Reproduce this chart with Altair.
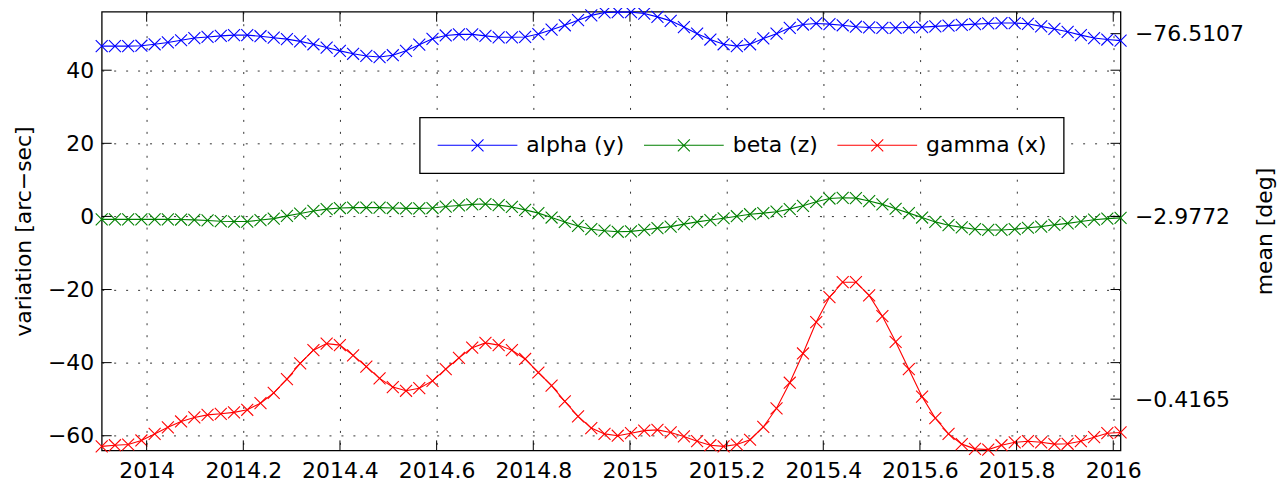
import altair as alt
import pandas as pd

# ---------------- data ----------------
series_names = ["alpha (y)", "beta (z)", "gamma (x)"]
series_colors = ["#0000ff", "#008000", "#ff0000"]

t_start = 2013.907          # decimal year of first sample
t_step_days = 10            # sampling cadence (days)
n_points = 78
times = [round(t_start + i * t_step_days / 365.25, 5) for i in range(n_points)]

alpha = [46.6, 46.6, 46.6, 46.7, 47.1, 47.6, 48.2, 48.8, 49.1, 49.4, 49.6, 49.6, 49.3,
         48.9, 48.5, 47.9, 47.1, 46.2, 45.3, 44.5, 43.9, 43.6, 44.1, 45.3, 47.0, 48.6,
         49.5, 49.8, 49.8, 49.4, 49.0, 49.0, 49.1, 49.9, 51.1, 52.3, 53.7, 55.0, 55.8,
         55.9, 55.9, 55.5, 54.6, 53.5, 51.8, 50.0, 48.4, 47.1, 46.6, 47.1, 48.7, 50.0,
         51.6, 52.5, 52.8, 52.6, 52.3, 51.9, 51.7, 51.6, 51.6, 51.7, 51.8, 52.0, 52.2,
         52.4, 52.6, 52.8, 52.9, 52.9, 52.7, 52.0, 51.3, 50.5, 49.6, 48.8, 48.4, 48.1]

beta = [-0.8, -0.8, -0.8, -0.8, -0.8, -0.8, -0.85, -0.95, -1.1, -1.3, -1.4, -1.4, -1.0,
        -0.6, 0.15, 0.8, 1.5, 2.0, 2.3, 2.4, 2.4, 2.4, 2.3, 2.2, 2.2, 2.3,
        2.7, 3.0, 3.3, 3.4, 3.1, 2.6, 1.8, 0.9, -0.3, -1.5, -2.6, -3.5, -3.9,
        -4.2, -4.1, -3.7, -3.2, -2.8, -2.1, -1.5, -1.0, -0.5, 0.05, 0.6, 0.9, 1.3,
        2.0, 2.9, 4.0, 4.9, 5.1, 5.0, 4.2, 3.3, 2.1, 0.9, -0.3, -1.5, -2.4,
        -3.0, -3.5, -3.7, -3.7, -3.5, -3.1, -2.8, -2.3, -1.9, -1.4, -0.9, -0.6, -0.4]

gamma = [-62.9, -62.6, -62.4, -61.3, -59.5, -57.7, -56.1, -55.0, -54.3, -54.0, -53.6, -52.9, -51.1,
         -48.3, -44.5, -40.2, -36.6, -34.8, -35.2, -38.0, -41.1, -44.3, -46.7, -47.7, -47.0, -45.0,
         -41.8, -38.7, -35.9, -34.6, -35.2, -36.6, -39.0, -42.7, -46.3, -50.6, -54.7, -57.9, -59.5,
         -60.0, -59.3, -58.6, -58.4, -59.1, -60.2, -61.5, -62.6, -62.9, -62.4, -61.1, -57.6, -52.5,
         -45.5, -37.5, -28.9, -22.1, -18.0, -18.0, -21.6, -27.3, -34.3, -41.8, -49.3, -55.2, -59.5,
         -62.3, -63.6, -63.8, -62.6, -61.8, -61.5, -61.8, -62.3, -62.2, -61.5, -60.4, -59.3, -59.1]

x_ticks = [2014, 2014.2, 2014.4, 2014.6, 2014.8, 2015, 2015.2, 2015.4, 2015.6, 2015.8, 2016]
y_ticks = [-60, -40, -20, 0, 20, 40]
right_ticks = [50, 0, -50]
right_labels = ["\u221276.5107", "\u22122.9772", "\u22120.4165"]

x_domain = [2013.907, 2016.015]
y_domain = [-64, 56]

left_title = "variation [arc\u2212sec]"
right_title = "mean [deg]"

# ---------------- build ----------------
rows = []
for name, vals in zip(series_names, [alpha, beta, gamma]):
    for t, v in zip(times, vals):
        rows.append({"t": t, "value": v, "series": name})
df = pd.DataFrame(rows)

W, H = 1022, 440
FONT = "DejaVu Sans"
FS = 22
TICK = 10

xs = alt.Scale(domain=x_domain, nice=False, zero=False)
ys = alt.Scale(domain=y_domain, nice=False, zero=False)

X_PATH = "M-1,-1L1,1M-1,1L1,-1"
LEG_PATH = "M-1,0L1,0M-0.15,-0.15L0.15,0.15M-0.15,0.15L0.15,-0.15"

legend = alt.Legend(
    title=None, orient="none", legendX=319, legendY=106, direction="horizontal",
    symbolType=LEG_PATH, symbolSize=6400, symbolStrokeWidth=1.1,
    labelFont=FONT, labelFontSize=FS, labelColor="black", labelOffset=8,
    columnPadding=18, padding=17, strokeColor="black", fillColor="white",
    clipHeight=22, cornerRadius=0,
)
color = alt.Color("series:N", scale=alt.Scale(domain=series_names, range=series_colors),
                  legend=legend)

x_axis = alt.Axis(orient="bottom", values=x_ticks, labelExpr="'' + datum.value", grid=True,
                  gridDash=[2, 10], gridColor="#333333", gridWidth=1,
                  ticks=False, tickSize=0, domain=False, labelFont=FONT, labelFontSize=FS,
                  labelColor="black", labelPadding=10, labelFlush=False, labelOverlap=False,
                  title=None)

y_axis_left = alt.Axis(orient="left", values=y_ticks, grid=True, gridDash=[2, 10],
                       gridColor="#333333", gridWidth=1, ticks=False, tickSize=0, domain=False,
                       labelFont=FONT, labelFontSize=FS, labelColor="black", labelPadding=8,
                       title=left_title, titleFont=FONT, titleFontSize=FS,
                       titleFontWeight="normal", titleColor="black", titleX=-78, titleY=H / 2,
                       titleAngle=270, titleAlign="center", titleBaseline="middle")

expr = ""
for v, lab in zip(right_ticks, right_labels):
    expr += f"datum.value == {v} ? '{lab}' : "
expr += "''"

y_axis_right = alt.Axis(orient="right", values=right_ticks, labelExpr=expr, grid=False,
                        ticks=False, tickSize=0, domain=False, labelFont=FONT, labelFontSize=FS,
                        labelColor="black", labelPadding=14, labelAlign="left",
                        title=right_title, titleFont=FONT, titleFontSize=FS,
                        titleFontWeight="normal", titleColor="black", titleX=144, titleY=H / 2,
                        titleAngle=270, titleAlign="center", titleBaseline="middle")

line = alt.Chart(df).mark_line(strokeWidth=1.1).encode(
    x=alt.X("t:Q", scale=xs, axis=x_axis),
    y=alt.Y("value:Q", scale=ys, axis=y_axis_left),
    color=color,
)

pts = alt.Chart(df).mark_point(shape=X_PATH, size=144, filled=False, strokeWidth=1.1,
                               opacity=1).encode(
    x=alt.X("t:Q", scale=xs, axis=x_axis),
    y=alt.Y("value:Q", scale=ys, axis=None),
    color=color,
)

xt_df = pd.DataFrame({"t": x_ticks})
yt_df = pd.DataFrame({"v": y_ticks})
rt_df = pd.DataFrame({"v": right_ticks})

tick_style = dict(color="black", strokeWidth=1)
x_bottom = alt.Chart(xt_df).mark_rule(**tick_style).encode(
    x=alt.X("t:Q", scale=xs, axis=x_axis), y=alt.value(H), y2=alt.value(H - TICK))
x_top = alt.Chart(xt_df).mark_rule(**tick_style).encode(
    x=alt.X("t:Q", scale=xs, axis=x_axis), y=alt.value(0), y2=alt.value(TICK))
y_left = alt.Chart(yt_df).mark_rule(**tick_style).encode(
    y=alt.Y("v:Q", scale=ys, axis=None), x=alt.value(0), x2=alt.value(TICK))
y_right = alt.Chart(yt_df).mark_rule(**tick_style).encode(
    y=alt.Y("v:Q", scale=ys, axis=None), x=alt.value(W), x2=alt.value(W - TICK))
r_axis = alt.Chart(rt_df).mark_rule(**tick_style).encode(
    y=alt.Y("v:Q", scale=ys, axis=y_axis_right), x=alt.value(W), x2=alt.value(W - TICK))

chart = alt.layer(line, pts, x_bottom, x_top, y_left, y_right, r_axis).resolve_scale(
    y="independent"
).properties(
    width=W, height=H,
    autosize=alt.AutoSizeParams(type="none"),
    padding={"left": 94, "top": 3, "right": 157, "bottom": 31},
).configure(
    font=FONT,
).configure_view(
    stroke="black", strokeWidth=1.3,
).configure_legend(
    strokeWidth=1.3,
)

chart.save("out.html", embed_options={"renderer": "svg", "actions": False})
